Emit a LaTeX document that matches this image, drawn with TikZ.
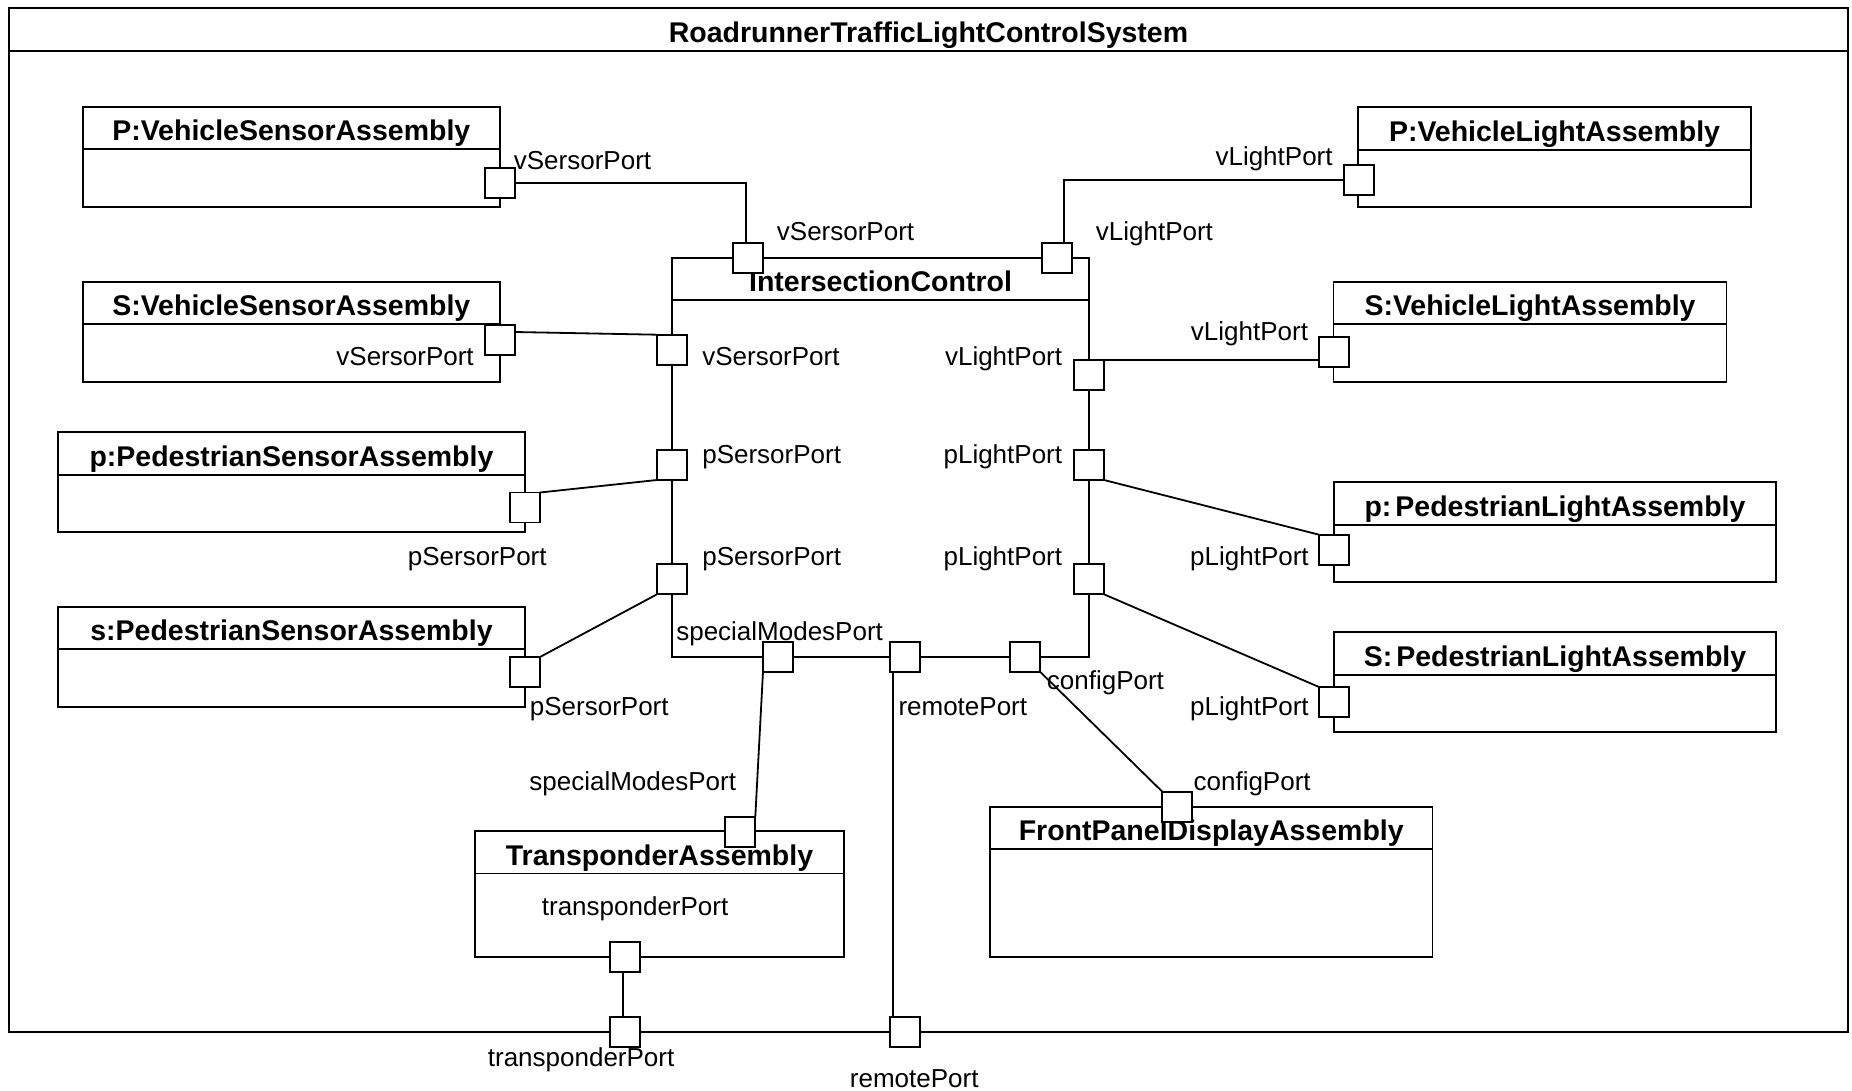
\documentclass[tikz,border=0pt]{standalone}
\usepackage{fontspec}
\setmainfont{Liberation Sans}
\usetikzlibrary{fit}

% A part: named frame, title compartment line and bold title
\newcommand{\umlpart}[6]{%
  \node[partbox, fit={(#2,#3) (#4,#5)}] (#1) {};
  \draw ([yshift=-42.5pt]#1.north west) -- ([yshift=-42.5pt]#1.north east);
  \node[ttl, anchor=base] (#1-title) at ([yshift=-34pt]#1.north) {#6};
}

\begin{document}
\begin{tikzpicture}[x=1pt, y=-1pt, line width=1.8pt,
  lbl/.style={inner sep=0pt, font=\fontsize{26}{30}\selectfont},
  ttl/.style={inner sep=0pt, font=\fontsize{28.5}{32}\selectfont\bfseries},
  partbox/.style={draw, inner sep=0pt, outer sep=0pt},
  port/.style={draw, fill=white, minimum size=30pt, inner sep=0pt, outer sep=0pt},
]
\useasboundingbox (0,0) rectangle (1852,1091);

% system frame
\umlpart{sys}{8.9}{8.3}{1848}{1032}{RoadrunnerTrafficLightControlSystem}

% parts
\umlpart{pvs}{82.6}{106.7}{500}{207.3}{P:VehicleSensorAssembly}
\umlpart{svs}{82.6}{281.7}{500}{382.3}{S:VehicleSensorAssembly}
\umlpart{pps}{58}{432.3}{525}{532.3}{p:PedestrianSensorAssembly}
\umlpart{sps}{58}{606.7}{525}{706.7}{s:PedestrianSensorAssembly}
\umlpart{pvl}{1358}{107.3}{1751}{207.3}{P:VehicleLightAssembly}
\umlpart{svl}{1333.5}{281.7}{1726.5}{382.3}{S:VehicleLightAssembly}
\umlpart{ppl}{1334}{482.3}{1776}{582.3}{p:\hspace{4pt}PedestrianLightAssembly}
\umlpart{spl}{1334}{632.3}{1776}{732.3}{S:\hspace{4pt}PedestrianLightAssembly}
\umlpart{tra}{475}{831}{844}{956.7}{TransponderAssembly}
\umlpart{fpd}{990}{806.7}{1432.5}{957}{FrontPanelDisplayAssembly}
\umlpart{ic}{672}{257.7}{1089}{656.7}{IntersectionControl}

% ports
\node[port] (pvsP) at (500,182.7) {};
\node[port] (svsP) at (500,340) {};
\node[port] (ppsP) at (525,507.5) {};
\node[port] (spsP) at (525,672) {};
\node[port] (icTopL) at (747.7,257.7) {};
\node[port] (icTopR) at (1057,257.7) {};
\node[port] (icVS) at (672,349.7) {};
\node[port] (icPS1) at (672,465) {};
\node[port] (icPS2) at (672,579.3) {};
\node[port] (icVL) at (1089,375) {};
\node[port] (icPL1) at (1089,465) {};
\node[port] (icPL2) at (1089,579.3) {};
\node[port] (icSM) at (778,656.7) {};
\node[port] (icRM) at (905,656.7) {};
\node[port] (icCF) at (1025,656.7) {};
\node[port] (pvlP) at (1358.6,180) {};
\node[port] (svlP) at (1334,352) {};
\node[port] (pplP) at (1334,549.7) {};
\node[port] (splP) at (1334,702) {};
\node[port] (trSM) at (740.3,831.7) {};
\node[port] (trTP) at (625,956.7) {};
\node[port] (sysTP) at (625,1031.7) {};
\node[port] (sysRM) at (905,1031.7) {};
\node[port] (fpdCF) at (1177.3,806.7) {};

% connectors
\draw (pvsP.east) -| ([xshift=-2pt]icTopL.north);
\draw (pvlP.west) -| ([xshift=7pt]icTopR.north);
\draw ([yshift=-7pt]svsP.north east) -- (icVS.north west);
\draw (ppsP.north east) -- (icPS1.south west);
\draw (spsP.north east) -- (icPS2.south west);
\draw (icVL.north east) -- (icVL.north east -| svlP.west);
\draw (icPL1.south east) -- (pplP.north west);
\draw (icPL2.south east) -- (splP.north west);
\draw (icSM.south west) -- (trSM.north east);
\draw ([xshift=-12pt]icRM.south) -- ([xshift=-12pt]sysRM.north);
\draw ([xshift=-2pt]trTP.south) -- ([xshift=-2pt]sysTP.north);
\draw (icCF.south east) -- (fpdCF.north west);

% port labels
\node[lbl, anchor=base west] (l01) at (513,169.3) {vSersorPort};
\node[lbl, anchor=base west] (l02) at (776,241) {vSersorPort};
\node[lbl, anchor=base west] (l03) at (1095,241) {vLightPort};
\node[lbl, anchor=base east] (l04) at (474.6,365.7) {vSersorPort};
\node[lbl, anchor=base west] (l05) at (701.4,365.7) {vSersorPort};
\node[lbl, anchor=base east] (l06) at (1063,365.7) {vLightPort};
\node[lbl, anchor=base east] (l07) at (1333.5,166) {vLightPort};
\node[lbl, anchor=base east] (l08) at (1308.9,340) {vLightPort};
\node[lbl, anchor=base west] (l09) at (701.4,463.3) {pSersorPort};
\node[lbl, anchor=base east] (l10) at (1063,463.3) {pLightPort};
\node[lbl, anchor=base west] (l11) at (701.4,565.7) {pSersorPort};
\node[lbl, anchor=base east] (l12) at (1063,565.7) {pLightPort};
\node[lbl, anchor=base west] (l13) at (407,565.7) {pSersorPort};
\node[lbl, anchor=base west] (l14) at (529,715) {pSersorPort};
\node[lbl, anchor=base east] (l15) at (1309.6,565) {pLightPort};
\node[lbl, anchor=base east] (l16) at (1309.6,715) {pLightPort};
\node[lbl, anchor=base west] (l17) at (675.4,640) {specialModesPort};
\node[lbl, anchor=base west] (l18) at (897.6,715) {remotePort};
\node[lbl, anchor=base west] (l19) at (1046,689.3) {configPort};
\node[lbl, anchor=base west] (l20) at (528.5,790) {specialModesPort};
\node[lbl, anchor=base west] (l21) at (541,915) {transponderPort};
\node[lbl, anchor=base west] (l22) at (487,1066.7) {transponderPort};
\node[lbl, anchor=base west] (l23) at (849,1087) {remotePort};
\node[lbl, anchor=base west] (l24) at (1192.7,790) {configPort};
\end{tikzpicture}
\end{document}
